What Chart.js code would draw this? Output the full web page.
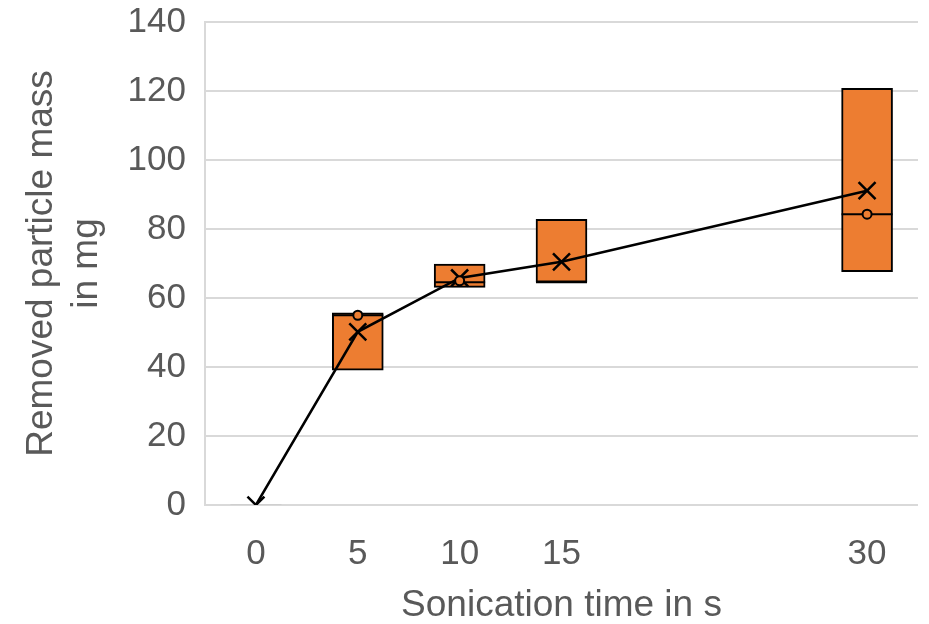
<!DOCTYPE html>
<html>
<head>
<meta charset="utf-8">
<script src="https://cdn.jsdelivr.net/npm/chart.js@4.4.1/dist/chart.umd.min.js"></script>
<style>
  html, body { margin: 0; padding: 0; background: #fff; }
  #wrap { width: 929px; height: 624px; }
</style>
</head>
<body>
<div id="wrap"><canvas id="myChart" width="929" height="624"></canvas></div>
<script>
// sonication time in s
const times = [0, 5, 10, 15, 30];
// box bottom / top (quartiles), median, mean, inner point
const boxLow = [0, 39.1, 63.1, 64.6, 67.6];
const boxHigh = [0, 55.7, 69.8, 82.8, 120.8];
const medians = [0, 55.0, 64.6, 64.6, 84.3];
const means = [0, 50.2, 65.8, 70.5, 91.1];
const points = [null, 55.0, 65.0, null, 84.3];
const yTicks = [0, 20, 40, 60, 80, 100, 120, 140];

const orange = '#ED7D31';
const grid = '#D9D9D9';
const textGray = '#595959';
const font = 'Liberation Sans, Arial, sans-serif';

let boxData = times.map((t, i) => {
    return { x: t, y: [boxLow[i], boxHigh[i]] };
});
let medianData = times.map((t, i) => {
    return { x: t, y: medians[i] };
});
let meanData = times.map((t, i) => {
    return { x: t, y: means[i] };
});
let pointData = times.map((t, i) => {
    return { x: t, y: points[i] };
});

let config = {
    type: 'bar',
    data: {
        datasets: [{
            type: 'bar',
            data: boxData,
            backgroundColor: orange,
            borderColor: '#000',
            borderWidth: 2,
            borderSkipped: false,
            barThickness: 51,
            order: 4
        }, {
            type: 'scatter',
            data: medianData,
            pointStyle: 'line',
            pointRadius: 25.5,
            pointBorderWidth: 2,
            pointBorderColor: times.map((t) => t === 0 ? '#CFCFCF' : '#000'),
            order: 3
        }, {
            type: 'line',
            data: meanData,
            borderColor: '#000',
            borderWidth: 2.5,
            tension: 0,
            pointStyle: 'crossRot',
            pointRadius: 12,
            pointBorderWidth: 2.5,
            pointBorderColor: '#000',
            order: 2
        }, {
            type: 'scatter',
            data: pointData,
            pointStyle: 'circle',
            pointRadius: 4.5,
            pointBorderWidth: 2,
            pointBorderColor: '#000',
            pointBackgroundColor: orange,
            order: 1
        }]
    },
    options: {
        responsive: false,
        animation: false,
        layout: {
            autoPadding: false,
            padding: { top: 22, right: 11, left: 0, bottom: 0 }
        },
        plugins: {
            legend: { display: false },
            tooltip: { enabled: false }
        },
        scales: {
            x: {
                type: 'linear',
                min: -2.5,
                max: 32.5,
                offset: false,
                afterBuildTicks: (scale) => {
                    scale.ticks = times.map((v) => ({ value: v }));
                },
                afterFit: (scale) => {
                    scale.height = 119;
                    scale.paddingLeft = 0;
                    scale.paddingRight = 0;
                },
                grid: { display: false },
                border: { display: false },
                ticks: {
                    color: textGray,
                    font: { family: font, size: 35 },
                    padding: 20,
                    maxRotation: 0,
                    autoSkip: false
                },
                title: {
                    display: true,
                    text: 'Sonication time in s',
                    color: textGray,
                    font: { family: font, size: 37, lineHeight: 1 },
                    padding: { top: 0, bottom: 0 }
                }
            },
            y: {
                min: 0,
                max: 140,
                afterBuildTicks: (scale) => {
                    scale.ticks = yTicks.map((v) => ({ value: v }));
                },
                afterFit: (scale) => {
                    scale.width = 205;
                    scale.paddingTop = 0;
                    scale.paddingBottom = 0;
                },
                grid: {
                    color: grid,
                    lineWidth: 2,
                    drawTicks: false
                },
                border: { display: true, color: grid, width: 2 },
                ticks: {
                    color: textGray,
                    font: { family: font, size: 35 },
                    padding: 19
                },
                title: {
                    display: true,
                    text: ['Removed particle mass', 'in mg'],
                    color: textGray,
                    font: { family: font, size: 37, lineHeight: 1.22 },
                    padding: { top: 19, bottom: 0 }
                }
            }
        }
    }
};

let ctx = document.getElementById('myChart').getContext('2d');
var myChart = new Chart(ctx, config);
</script>
</body>
</html>
